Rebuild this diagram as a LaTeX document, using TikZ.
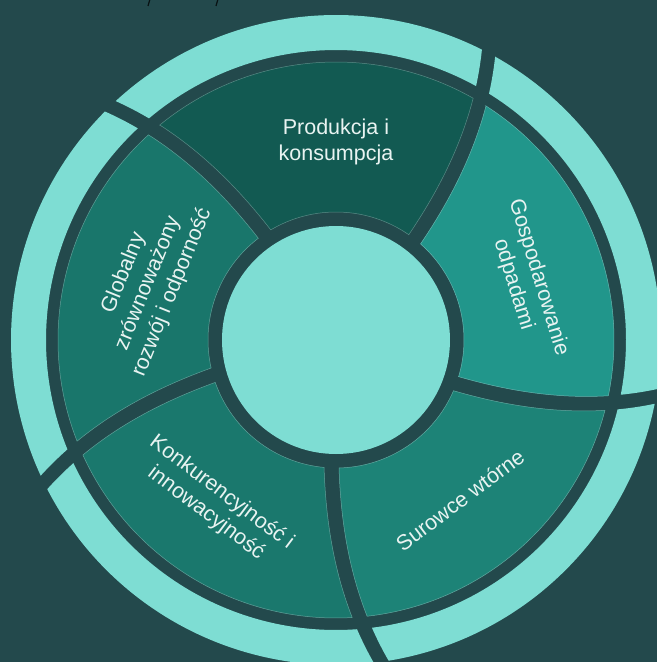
\documentclass[tikz,border=0pt]{standalone}
\usepackage{fontspec}
\setmainfont{Liberation Sans}
\definecolor{bgC}{HTML}{23494C}
\definecolor{ringC}{HTML}{7EDDD3}
\definecolor{globC}{HTML}{19766B}
\definecolor{prodC}{HTML}{125A52}
\definecolor{gospC}{HTML}{21968B}
\definecolor{surC}{HTML}{1D8377}
\definecolor{konC}{HTML}{1A786D}
\definecolor{txtC}{HTML}{E8F3F1}
% one twisted piece of the wheel: style, lower angle, upper angle, inner r, outer r
\newcommand\wedgepart[5]{%
  \fill[#1] plot[domain=#4:#5] ({#2+tw(\x)+hg(\x)}:{\x})
    arc[start angle={#2+tw(#5)+hg(#5)}, end angle={#3+tw(#5)-hg(#5)}, radius=#5]
    -- plot[domain=#5:#4] ({#3+tw(\x)-hg(\x)}:{\x})
    arc[start angle={#3+tw(#4)-hg(#4)}, end angle={#2+tw(#4)+hg(#4)}, radius=#4]
    -- cycle;}
\usetikzlibrary{shapes.geometric}

\begin{document}
\begin{tikzpicture}[x=1pt, y=1pt,
declare function={tw(\r)=10*((\r-128)/197)*(0.6+0.4*(\r-128)/197);% twist of the dividers
                  hg(\r)=429.7/\r;},% half of the gap, in degrees
    P/.style = {fill=#1, draw=white!30!#1, line width=0.5pt, samples=30},% inner segments
    R/.style = {fill=ringC, samples=30},% outer ring
    L/.style = {text=txtC, align=center, inner sep=0pt,
                font=\fontsize{21.5}{26}\selectfont},
                        ]
\useasboundingbox (-336,-322) rectangle (321,340);
\fill[bgC] (-336,-322) rectangle (321,340);
\clip (-336,-322) rectangle (321,340);
\foreach \k/\col in {0/globC,1/prodC,2/gospC,3/surC,4/konC}% <-- segments, counter-clockwise
{
  \pgfmathsetmacro\lo{124-72*\k}
  \pgfmathsetmacro\up{196-72*\k}
  \wedgepart{P=\col}{\lo}{\up}{128}{278}
  \wedgepart{R}{\lo}{\up}{290}{325}
}
\node[circle, fill=ringC, minimum size=228pt, inner sep=0pt] (core) at (0,0) {};
\node[L] (prod) at (0,198) {Produkcja i\\konsumpcja};
\node[L, rotate=-73] (gosp) at (190,59) {Gospodarowanie\\odpadami};
\node[L, rotate=37] (sur) at (124,-160) {Surowce wtórne};
\node[L, rotate=-37] (kon) at (-122,-163) {Konkurencyjność i\\innowacyjność};
\node[L, rotate=68] (glob) at (-188,57) {Globalny\\zrównoważony\\rozwój i odporność};
\draw[line width=1.2pt, black!75!bgC] (-186,341) -- (-188,334) (-118,341) -- (-120,334);
\end{tikzpicture}
\end{document}
